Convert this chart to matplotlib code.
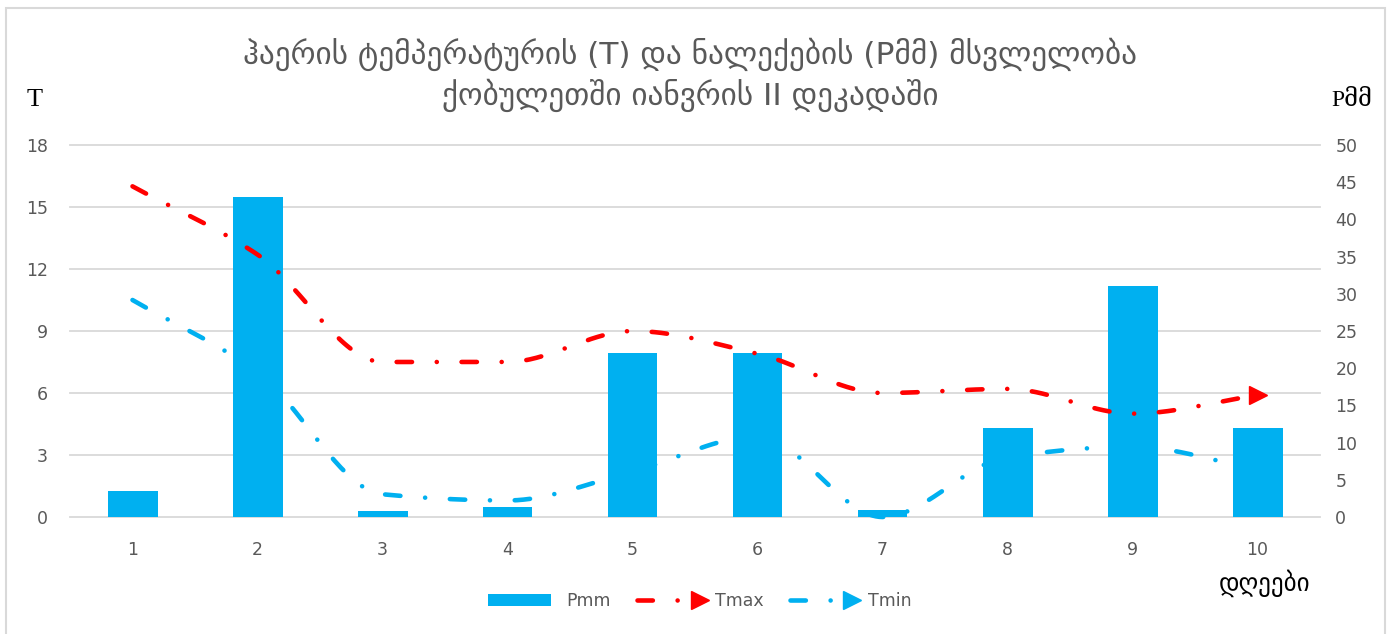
import numpy as np
import matplotlib
matplotlib.use("Agg")
import matplotlib.pyplot as plt
from matplotlib.patches import Rectangle, Patch
from matplotlib.lines import Line2D
from matplotlib.legend_handler import HandlerLine2D
from matplotlib.transforms import blended_transform_factory

# -----------------------------
# Data
# -----------------------------
days = [1, 2, 3, 4, 5, 6, 7, 8, 9, 10]
pmm = [3.5, 43.0, 0.8, 1.3, 22.0, 22.0, 0.9, 12.0, 31.0, 12.0]
tmax = [16.0, 12.7, 7.5, 7.5, 9.0, 7.9, 6.0, 6.2, 5.0, 5.9]
tmin = [10.5, 7.0, 1.1, 0.8, 2.2, 3.9, 0.0, 2.9, 3.4, 2.3]

t_ticks = [0, 3, 6, 9, 12, 15, 18]
p_ticks = [0, 5, 10, 15, 20, 25, 30, 35, 40, 45, 50]

title = "ჰაერის ტემპერატურის (T) და ნალექების (Pმმ) მსვლელობა\nქობულეთში იანვრის II დეკადაში"

# -----------------------------
# Style
# -----------------------------
blue = '#00B0F0'
red = '#FF0000'
grey_txt = '#595959'
grid_c = '#D9D9D9'
lw = 3.3
dash = (0, (3.35, 5.4, 0.01, 5.4))


# -----------------------------
# Smoothed line (monotone cubic through the points)
# -----------------------------
def smooth(x, y, n=40):
    x = np.asarray(x, float)
    y = np.asarray(y, float)
    h = np.diff(x)
    d = np.diff(y) / h
    m = np.zeros_like(y)
    m[0], m[-1] = d[0], d[-1]
    for k in range(1, len(y) - 1):
        if d[k - 1] * d[k] > 0:
            m[k] = 2 * d[k - 1] * d[k] / (d[k - 1] + d[k])
    xs, ys = [x[:1]], [y[:1]]
    t = np.linspace(0, 1, n)[1:]
    for k in range(len(x) - 1):
        h00 = 2 * t**3 - 3 * t**2 + 1
        h10 = t**3 - 2 * t**2 + t
        h01 = -2 * t**3 + 3 * t**2
        h11 = t**3 - t**2
        xs.append(x[k] + t * h[k])
        ys.append(h00 * y[k] + h10 * h[k] * m[k] + h01 * y[k + 1] + h11 * h[k] * m[k + 1])
    return np.concatenate(xs), np.concatenate(ys)


class EndMarker(HandlerLine2D):
    # marker at the right end of the legend line
    def create_artists(self, legend, orig_handle, xdescent, ydescent, width, height, fontsize, trans):
        arts = super().create_artists(legend, orig_handle, xdescent, ydescent, width, height, fontsize, trans)
        arts[0].set_markevery([len(arts[0].get_xdata()) - 1])
        return arts


# -----------------------------
# Figure setup
# -----------------------------
W, H = 1395, 634
fig = plt.figure(figsize=(W / 100, H / 100), dpi=100)
fig.patch.set_facecolor('white')
ax = fig.add_axes([70 / W, 1 - 517 / H, 1250 / W, 372 / H])   # bars, right scale
ax2 = ax.twinx()                                              # lines, left scale

# bars (Pmm)
ax.bar(days, pmm, width=0.4, color=blue, zorder=3)
ax.set_ylim(0, 50)
ax.set_yticks(p_ticks)
ax.yaxis.tick_right()
ax.set_xlim(0.5, 10.5)
ax.set_xticks(days)

# gridlines from the temperature scale, behind bars
tr = blended_transform_factory(ax.transAxes, ax2.transData)
ax2.set_ylim(0, 18)
for t in t_ticks:
    ax.plot([0, 1], [t, t], transform=tr, color=grid_c, lw=1.3, zorder=1, clip_on=False)

# lines (T)
xs, ys = smooth(days, tmax)
ax2.plot(xs, ys, color=red, lw=lw, linestyle=dash, dash_capstyle='round',
         marker='>', markevery=[-1], markersize=13, zorder=4)
xs, ys = smooth(days, tmin)
ax2.plot(xs, ys, color=blue, lw=lw, linestyle=dash, dash_capstyle='round',
         marker='>', markevery=[-1], markersize=13, zorder=4, clip_on=False)
ax2.set_yticks(t_ticks)
ax2.yaxis.tick_left()

for a in (ax, ax2):
    for s in a.spines.values():
        s.set_visible(False)
    a.tick_params(length=0, labelsize=12.5, labelcolor=grey_txt)
ax.tick_params(axis='x', pad=17)
ax.tick_params(axis='y', pad=11)
ax2.tick_params(axis='y', pad=16)

# -----------------------------
# Texts
# -----------------------------
fig.text(690 / W, 1 - 75 / H, title, ha='center', va='center', fontsize=22.5,
         color=grey_txt, linespacing=1.3, family='DejaVu Sans')
fig.text(35 / W, 1 - 100 / H, 'T', ha='center', va='center', fontsize=19,
         family=['Liberation Serif', 'DejaVu Serif'])
fig.text(1352 / W, 1 - 100 / H, 'Pმმ', ha='center', va='center', fontsize=17,
         family=['Liberation Serif', 'DejaVu Serif'])
fig.text(1265 / W, 1 - 583 / H, 'დღეები', ha='center', va='center', fontsize=18,
         family='DejaVu Sans')

# -----------------------------
# Legend
# -----------------------------
handles = [
    Patch(facecolor=blue),
    Line2D([], [], color=red, lw=lw, linestyle=dash, dash_capstyle='round', marker='>', markersize=13),
    Line2D([], [], color=blue, lw=lw, linestyle=dash, dash_capstyle='round', marker='>', markersize=13),
]
fig.legend(handles, ['Pmm', 'Tmax', 'Tmin'], loc='center', bbox_to_anchor=(700 / W, 1 - 601 / H),
           ncol=3, frameon=False, fontsize=12.5, labelcolor=grey_txt, handlelength=3.6,
           handletextpad=0.9, columnspacing=1.5, numpoints=1,
           handler_map={Line2D: EndMarker(numpoints=1)})

# chart border
fig.patches.append(Rectangle((6 / W, -0.02), 1379 / W, 1 - 8 / H + 0.02, transform=fig.transFigure,
                             fill=False, ec=grid_c, lw=1.5))

fig.savefig('out.png', dpi=100)
